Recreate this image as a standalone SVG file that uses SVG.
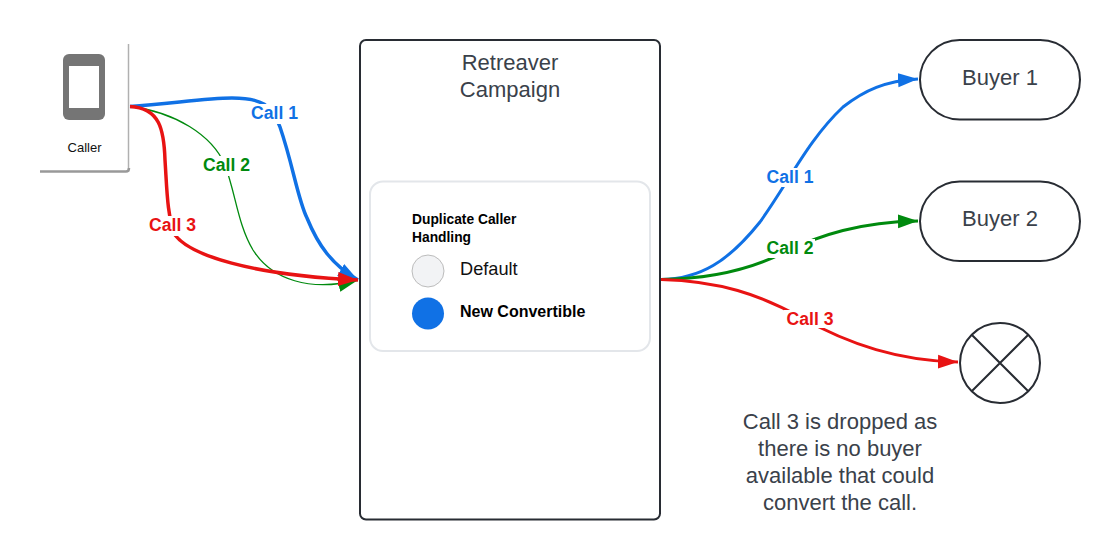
<svg xmlns="http://www.w3.org/2000/svg" width="1120" height="560" viewBox="0 0 1120 560">
<style>
text{font-family:"Liberation Sans",Arial,sans-serif}
.n{fill:#fff;stroke:#282c33;stroke-width:2}
.t{font-size:22px;fill:#3a414a;text-anchor:middle}
.c{fill:none;stroke-width:3}
.w{stroke-width:3.500}
.l{font-size:17.600px;font-weight:700;text-anchor:middle}
.m{fill:#fff}
.b{stroke:#1071e5}.g{stroke:#008a0e}.r{stroke:#e81313}
</style>
<defs>
<marker id="ab" markerUnits="userSpaceOnUse" markerWidth="22" markerHeight="16" refX="20" refY="7" orient="auto" viewBox="0 0 22 14"><path d="M0 0L20 7L0 14Z" fill="#1071e5"/></marker>
<marker id="ag" markerUnits="userSpaceOnUse" markerWidth="22" markerHeight="16" refX="20" refY="7" orient="auto" viewBox="0 0 22 14"><path d="M0 0L20 7L0 14Z" fill="#008a0e"/></marker>
<marker id="ar" markerUnits="userSpaceOnUse" markerWidth="22" markerHeight="16" refX="20" refY="7" orient="auto" viewBox="0 0 22 14"><path d="M0 0L20 7L0 14Z" fill="#e81313"/></marker>
</defs>
<g id="caller">
<path d="M127 172V44" fill="none" stroke="#b0b0b0" stroke-width="1.500" transform="translate(1.500 0)"/>
<path d="M40 171.500H126Q129 171.500 129 168" fill="none" stroke="#999" stroke-width="2.500"/>
<rect x="63" y="54" width="42" height="66" rx="6" fill="#757575"/>
<rect x="69" y="66" width="30" height="42" fill="#fff"/>
<text x="84.500" y="152" font-size="13px" text-anchor="middle" fill="#111">Caller</text>
</g>
<g id="campaign">
<rect class="n" x="360" y="40" width="300" height="479.500" rx="6"/>
<text class="t" x="510" y="69.500">Retreaver</text>
<text class="t" x="510" y="96.500">Campaign</text>
</g>
<g id="handling">
<rect x="370" y="181.500" width="280" height="169.500" rx="13" fill="#fff" stroke="#e3e6ea" stroke-width="2"/>
<text x="412" y="224" font-size="13.800px" font-weight="700" fill="#000">Duplicate Caller</text>
<text x="412" y="242" font-size="13.800px" font-weight="700" fill="#000">Handling</text>
<circle cx="428" cy="271" r="16" fill="#f2f3f5" stroke="#bcbcbc" stroke-width="1"/>
<text x="460" y="275" font-size="18.200px" fill="#111">Default</text>
<circle cx="428" cy="313.500" r="16" fill="#1071e5"/>
<text x="460" y="317" font-size="16px" font-weight="700" fill="#000">New Convertible</text>
</g>
<g id="buyer1"><rect class="n" x="920" y="40" width="160" height="79.500" rx="39.700"/><text class="t" x="1000" y="85">Buyer 1</text></g>
<g id="buyer2"><rect class="n" x="920" y="181.500" width="160" height="79.500" rx="39.700"/><text class="t" x="1000" y="226">Buyer 2</text></g>
<g id="drop"><circle class="n" cx="1000" cy="363" r="40"/><path d="M971.700 334.700L1028.300 391.300M1028.300 334.700L971.700 391.300" fill="none" stroke="#282c33" stroke-width="2"/></g>
<g id="note">
<text class="t" x="840" y="428.500">Call 3 is dropped as</text>
<text class="t" x="840" y="455.500">there is no buyer</text>
<text class="t" x="840" y="482.500">available that could</text>
<text class="t" x="840" y="509.500">convert the call.</text>
</g>
<g id="connectors">
<path class="c w b" marker-end="url(#ab)" d="M130 106.500C170 104 205 98 232 98C262 98 272 105 280 127C293 165 298 200 307 218C318 245 332 265 358 280"/>
<path class="c g" style="stroke-width:1.300" marker-end="url(#ag)" d="M130 106.500C175 112 212 135 225 165C236 195 238 225 253 250C272 280 310 292 358 280"/>
<path class="c w r" marker-end="url(#ar)" d="M130 106.500C160 108 164 130 165 160C167 190 167 215 175 235C190 255 250 275 358 280"/>
<path class="c b" marker-end="url(#ab)" d="M661 279.500C700 279 728 262 760 222C790 180 808 140 843 107C865 90 885 81 918 79"/>
<path class="c g" marker-end="url(#ag)" d="M661 279.500C710 279 750 270 785 252C820 235 860 222 918 221"/>
<path class="c r" marker-end="url(#ar)" d="M661 279.500C720 281 760 295 800 317C850 345 900 361 958 362"/>
<rect class="m" x="249" y="104" width="51" height="20"/><text class="l" x="274.500" y="119" fill="#1071e5">Call 1</text>
<rect class="m" x="201" y="156" width="51" height="20"/><text class="l" x="226.500" y="171" fill="#008a0e">Call 2</text>
<rect class="m" x="147" y="216" width="51" height="20"/><text class="l" x="172.500" y="231" fill="#e81313">Call 3</text>
<rect class="m" x="764" y="168" width="51" height="19"/><text class="l" x="790" y="183" fill="#1071e5">Call 1</text>
<rect class="m" x="764" y="239" width="51" height="19"/><text class="l" x="790" y="254" fill="#008a0e">Call 2</text>
<rect class="m" x="784" y="310" width="51" height="18"/><text class="l" x="810" y="325" fill="#e81313">Call 3</text>
</g>
</svg>
